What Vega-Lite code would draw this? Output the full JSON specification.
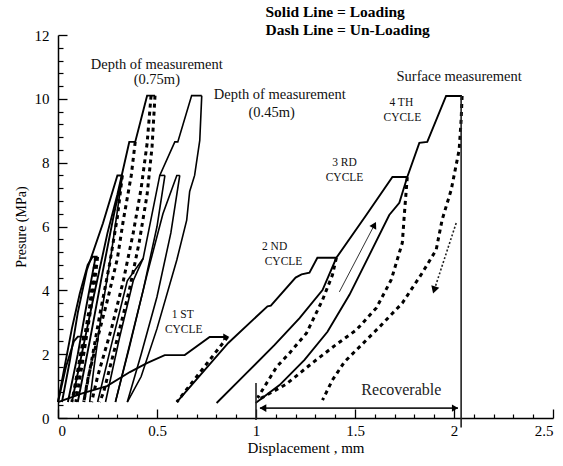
{
  "$schema": "https://vega.github.io/schema/vega-lite/v6.json",
  "width": 495,
  "height": 383,
  "autosize": {"type": "none"},
  "padding": {"left": 58, "top": 35, "right": 10, "bottom": 48},
  "background": "white",
  "config": {"view": {"stroke": null}, "font": "Liberation Serif"},
  "datasets": {
    "curves": [
      {"id":"s1","k":"solid","o":0,"x":0,"y":0.5},{"id":"s1","k":"solid","o":1,"x":0.126,"y":0.78},{"id":"s1","k":"solid","o":2,"x":0.247,"y":1.0},{"id":"s1","k":"solid","o":3,"x":0.363,"y":1.44},{"id":"s1","k":"solid","o":4,"x":0.449,"y":1.72},{"id":"s1","k":"solid","o":5,"x":0.539,"y":1.97},{"id":"s1","k":"solid","o":6,"x":0.64,"y":1.97},{"id":"s1","k":"solid","o":7,"x":0.766,"y":2.54},{"id":"s1","k":"solid","o":8,"x":0.857,"y":2.54},
      {"id":"d1","k":"dash","o":0,"x":0.857,"y":2.54},{"id":"d1","k":"dash","o":1,"x":0.6,"y":0.5},
      {"id":"s2","k":"solid","o":0,"x":0.6,"y":0.5},{"id":"s2","k":"solid","o":1,"x":0.86,"y":2.35},{"id":"s2","k":"solid","o":2,"x":1.058,"y":3.5},{"id":"s2","k":"solid","o":3,"x":1.075,"y":3.52},{"id":"s2","k":"solid","o":4,"x":1.2,"y":4.4},{"id":"s2","k":"solid","o":5,"x":1.23,"y":4.5},{"id":"s2","k":"solid","o":6,"x":1.27,"y":4.55},{"id":"s2","k":"solid","o":7,"x":1.31,"y":5.02},{"id":"s2","k":"solid","o":8,"x":1.406,"y":5.02},
      {"id":"d2","k":"dash","o":0,"x":1.406,"y":5.02},{"id":"d2","k":"dash","o":1,"x":1.386,"y":4.48},{"id":"d2","k":"dash","o":2,"x":1.336,"y":3.7},{"id":"d2","k":"dash","o":3,"x":1.255,"y":2.66},{"id":"d2","k":"dash","o":4,"x":1.17,"y":2.04},{"id":"d2","k":"dash","o":5,"x":1.104,"y":1.6},{"id":"d2","k":"dash","o":6,"x":1.008,"y":0.63},
      {"id":"s3","k":"solid","o":0,"x":0.801,"y":0.47},{"id":"s3","k":"solid","o":1,"x":0.943,"y":1.35},{"id":"s3","k":"solid","o":2,"x":1.094,"y":2.29},{"id":"s3","k":"solid","o":3,"x":1.22,"y":3.13},{"id":"s3","k":"solid","o":4,"x":1.336,"y":4.01},{"id":"s3","k":"solid","o":5,"x":1.406,"y":5.02},{"id":"s3","k":"solid","o":6,"x":1.557,"y":6.36},{"id":"s3","k":"solid","o":7,"x":1.689,"y":7.55},{"id":"s3","k":"solid","o":8,"x":1.764,"y":7.55},
      {"id":"s4","k":"solid","o":0,"x":0.998,"y":0.47},{"id":"s4","k":"solid","o":1,"x":1.119,"y":1.03},{"id":"s4","k":"solid","o":2,"x":1.245,"y":1.82},{"id":"s4","k":"solid","o":3,"x":1.361,"y":2.7},{"id":"s4","k":"solid","o":4,"x":1.472,"y":3.86},{"id":"s4","k":"solid","o":5,"x":1.573,"y":5.11},{"id":"s4","k":"solid","o":6,"x":1.673,"y":6.36},{"id":"s4","k":"solid","o":7,"x":1.724,"y":6.74},{"id":"s4","k":"solid","o":8,"x":1.764,"y":7.55},{"id":"s4","k":"solid","o":9,"x":1.825,"y":8.62},{"id":"s4","k":"solid","o":10,"x":1.865,"y":8.65},{"id":"s4","k":"solid","o":11,"x":1.96,"y":10.09},{"id":"s4","k":"solid","o":12,"x":2.04,"y":10.09},
      {"id":"dA","k":"dash","o":0,"x":1.764,"y":7.55},{"id":"dA","k":"dash","o":1,"x":1.749,"y":6.36},{"id":"dA","k":"dash","o":2,"x":1.739,"y":5.49},{"id":"dA","k":"dash","o":3,"x":1.683,"y":4.33},{"id":"dA","k":"dash","o":4,"x":1.608,"y":3.45},{"id":"dA","k":"dash","o":5,"x":1.507,"y":2.76},{"id":"dA","k":"dash","o":6,"x":1.396,"y":2.26},{"id":"dA","k":"dash","o":7,"x":1.29,"y":1.75},{"id":"dA","k":"dash","o":8,"x":1.15,"y":1.05},{"id":"dA","k":"dash","o":9,"x":1.02,"y":0.6},
      {"id":"dB","k":"dash","o":0,"x":2.041,"y":10.09},{"id":"dB","k":"dash","o":1,"x":2.036,"y":9.34},{"id":"dB","k":"dash","o":2,"x":2.026,"y":8.4},{"id":"dB","k":"dash","o":3,"x":1.986,"y":7.15},{"id":"dB","k":"dash","o":4,"x":1.94,"y":6.21},{"id":"dB","k":"dash","o":5,"x":1.91,"y":5.27},{"id":"dB","k":"dash","o":6,"x":1.84,"y":4.55},{"id":"dB","k":"dash","o":7,"x":1.739,"y":3.6},{"id":"dB","k":"dash","o":8,"x":1.623,"y":2.85},{"id":"dB","k":"dash","o":9,"x":1.507,"y":2.13},{"id":"dB","k":"dash","o":10,"x":1.447,"y":1.76},{"id":"dB","k":"dash","o":11,"x":1.386,"y":1.19},{"id":"dB","k":"dash","o":12,"x":1.336,"y":0.56},
      {"id":"t1","k":"thin","o":0,"x":1.421,"y":3.95},{"id":"t1","k":"thin","o":1,"x":1.598,"y":6.05},
      {"id":"t2","k":"dotted","o":0,"x":2.011,"y":6.11},{"id":"t2","k":"dotted","o":1,"x":1.9,"y":4.01},
      {"id":"a0","k":"solid","o":0,"x":0,"y":0.5},{"id":"a0","k":"solid","o":1,"x":0.04,"y":1.6},{"id":"a0","k":"solid","o":2,"x":0.08,"y":2.4},{"id":"a0","k":"solid","o":3,"x":0.1,"y":2.55},{"id":"a0","k":"solid","o":4,"x":0.13,"y":2.55},
      {"id":"a0d","k":"dash","o":0,"x":0.13,"y":2.55},{"id":"a0d","k":"dash","o":1,"x":0.1,"y":1.5},{"id":"a0d","k":"dash","o":2,"x":0.07,"y":0.5},
      {"id":"a1","k":"solid","o":0,"x":0,"y":0.5},{"id":"a1","k":"solid","o":1,"x":0.03,"y":1.5},{"id":"a1","k":"solid","o":2,"x":0.07,"y":2.8},{"id":"a1","k":"solid","o":3,"x":0.11,"y":3.9},{"id":"a1","k":"solid","o":4,"x":0.15,"y":4.8},{"id":"a1","k":"solid","o":5,"x":0.175,"y":5.05},{"id":"a1","k":"solid","o":6,"x":0.2,"y":5.05},
      {"id":"a1d","k":"dash","o":0,"x":0.2,"y":5.05},{"id":"a1d","k":"dash","o":1,"x":0.18,"y":4},{"id":"a1d","k":"dash","o":2,"x":0.15,"y":2.8},{"id":"a1d","k":"dash","o":3,"x":0.12,"y":1.6},{"id":"a1d","k":"dash","o":4,"x":0.09,"y":0.5},
      {"id":"a2","k":"solid","o":0,"x":0.02,"y":0.5},{"id":"a2","k":"solid","o":1,"x":0.06,"y":1.8},{"id":"a2","k":"solid","o":2,"x":0.1,"y":3.3},{"id":"a2","k":"solid","o":3,"x":0.146,"y":4.64},{"id":"a2","k":"solid","o":4,"x":0.227,"y":6.1},{"id":"a2","k":"solid","o":5,"x":0.3,"y":7.6},{"id":"a2","k":"solid","o":6,"x":0.325,"y":7.6},
      {"id":"a2d","k":"dash","o":0,"x":0.325,"y":7.6},{"id":"a2d","k":"dash","o":1,"x":0.3,"y":6.3},{"id":"a2d","k":"dash","o":2,"x":0.26,"y":4.8},{"id":"a2d","k":"dash","o":3,"x":0.21,"y":3.2},{"id":"a2d","k":"dash","o":4,"x":0.17,"y":1.8},{"id":"a2d","k":"dash","o":5,"x":0.13,"y":0.5},
      {"id":"a3","k":"solid","o":0,"x":0.07,"y":0.5},{"id":"a3","k":"solid","o":1,"x":0.12,"y":2},{"id":"a3","k":"solid","o":2,"x":0.18,"y":3.8},{"id":"a3","k":"solid","o":3,"x":0.25,"y":5.8},{"id":"a3","k":"solid","o":4,"x":0.3,"y":7},{"id":"a3","k":"solid","o":5,"x":0.36,"y":8.65},{"id":"a3","k":"solid","o":6,"x":0.39,"y":8.65},{"id":"a3","k":"solid","o":7,"x":0.45,"y":10.1},{"id":"a3","k":"solid","o":8,"x":0.49,"y":10.1},
      {"id":"a3d","k":"dash","o":0,"x":0.49,"y":10.1},{"id":"a3d","k":"dash","o":1,"x":0.475,"y":8.5},{"id":"a3d","k":"dash","o":2,"x":0.45,"y":7},{"id":"a3d","k":"dash","o":3,"x":0.41,"y":5.5},{"id":"a3d","k":"dash","o":4,"x":0.36,"y":4},{"id":"a3d","k":"dash","o":5,"x":0.3,"y":2.5},{"id":"a3d","k":"dash","o":6,"x":0.23,"y":0.8},{"id":"a3d","k":"dash","o":7,"x":0.21,"y":0.5},
      {"id":"a4d","k":"dash","o":0,"x":0.39,"y":8.65},{"id":"a4d","k":"dash","o":1,"x":0.37,"y":7.6},{"id":"a4d","k":"dash","o":2,"x":0.33,"y":6.2},{"id":"a4d","k":"dash","o":3,"x":0.3,"y":5},{"id":"a4d","k":"dash","o":4,"x":0.25,"y":3.7},{"id":"a4d","k":"dash","o":5,"x":0.2,"y":2.5},{"id":"a4d","k":"dash","o":6,"x":0.15,"y":1.2},{"id":"a4d","k":"dash","o":7,"x":0.13,"y":0.5},
      {"id":"a7d","k":"dash","o":0,"x":0.47,"y":10.1},{"id":"a7d","k":"dash","o":1,"x":0.45,"y":8.6},{"id":"a7d","k":"dash","o":2,"x":0.42,"y":7.2},{"id":"a7d","k":"dash","o":3,"x":0.38,"y":5.8},{"id":"a7d","k":"dash","o":4,"x":0.33,"y":4.3},{"id":"a7d","k":"dash","o":5,"x":0.27,"y":2.8},{"id":"a7d","k":"dash","o":6,"x":0.2,"y":1.3},{"id":"a7d","k":"dash","o":7,"x":0.17,"y":0.5},
      {"id":"a9d","k":"dash","o":0,"x":0.19,"y":5.05},{"id":"a9d","k":"dash","o":1,"x":0.16,"y":3.5},{"id":"a9d","k":"dash","o":2,"x":0.12,"y":2.0},{"id":"a9d","k":"dash","o":3,"x":0.08,"y":0.7},
      {"id":"a8","k":"solid","o":0,"x":0.05,"y":0.5},{"id":"a8","k":"solid","o":1,"x":0.1,"y":2.0},{"id":"a8","k":"solid","o":2,"x":0.14,"y":3.4},{"id":"a8","k":"solid","o":3,"x":0.19,"y":5.05},
      {"id":"a5","k":"solid","o":0,"x":0.1,"y":0.5},{"id":"a5","k":"solid","o":1,"x":0.16,"y":2.4},{"id":"a5","k":"solid","o":2,"x":0.22,"y":4.4},{"id":"a5","k":"solid","o":3,"x":0.28,"y":6.3},{"id":"a5","k":"solid","o":4,"x":0.325,"y":7.6},
      {"id":"a6","k":"fine","o":0,"x":0.325,"y":7.6},{"id":"a6","k":"fine","o":1,"x":0.3,"y":6.5},{"id":"a6","k":"fine","o":2,"x":0.27,"y":5.2},{"id":"a6","k":"fine","o":3,"x":0.22,"y":3.3},{"id":"a6","k":"fine","o":4,"x":0.18,"y":1.5},{"id":"a6","k":"fine","o":5,"x":0.16,"y":0.5},
      {"id":"g0","k":"fine","o":0,"x":0.2,"y":0.5},{"id":"g0","k":"fine","o":1,"x":0.27,"y":2.3},{"id":"g0","k":"fine","o":2,"x":0.35,"y":4.3},{"id":"g0","k":"fine","o":3,"x":0.43,"y":5.0},
      {"id":"g1","k":"fine","o":0,"x":0.24,"y":0.5},{"id":"g1","k":"fine","o":1,"x":0.31,"y":2.5},{"id":"g1","k":"fine","o":2,"x":0.38,"y":4.3},{"id":"g1","k":"fine","o":3,"x":0.43,"y":5.0},{"id":"g1","k":"fine","o":4,"x":0.514,"y":7.6},{"id":"g1","k":"fine","o":5,"x":0.59,"y":8.65},{"id":"g1","k":"fine","o":6,"x":0.605,"y":8.65},{"id":"g1","k":"fine","o":7,"x":0.675,"y":10.1},{"id":"g1","k":"fine","o":8,"x":0.726,"y":10.1},
      {"id":"g1b","k":"fine","o":0,"x":0.514,"y":7.6},{"id":"g1b","k":"fine","o":1,"x":0.54,"y":7.6},
      {"id":"g2","k":"fine","o":0,"x":0.54,"y":7.6},{"id":"g2","k":"fine","o":1,"x":0.5,"y":6},{"id":"g2","k":"fine","o":2,"x":0.43,"y":4},{"id":"g2","k":"fine","o":3,"x":0.36,"y":2.2},{"id":"g2","k":"fine","o":4,"x":0.29,"y":0.5},
      {"id":"g3","k":"fine","o":0,"x":0.29,"y":0.5},{"id":"g3","k":"fine","o":1,"x":0.37,"y":2.5},{"id":"g3","k":"fine","o":2,"x":0.45,"y":4.5},{"id":"g3","k":"fine","o":3,"x":0.53,"y":6.4},{"id":"g3","k":"fine","o":4,"x":0.6,"y":7.6},{"id":"g3","k":"fine","o":5,"x":0.615,"y":7.6},
      {"id":"g4","k":"fine","o":0,"x":0.615,"y":7.6},{"id":"g4","k":"fine","o":1,"x":0.57,"y":5.8},{"id":"g4","k":"fine","o":2,"x":0.5,"y":3.8},{"id":"g4","k":"fine","o":3,"x":0.42,"y":2},{"id":"g4","k":"fine","o":4,"x":0.35,"y":0.5},
      {"id":"g6","k":"fine","o":0,"x":0.726,"y":10.1},{"id":"g6","k":"fine","o":1,"x":0.716,"y":8.7},{"id":"g6","k":"fine","o":2,"x":0.69,"y":7.6},{"id":"g6","k":"fine","o":3,"x":0.665,"y":7.1},{"id":"g6","k":"fine","o":4,"x":0.65,"y":6.2},{"id":"g6","k":"fine","o":5,"x":0.6,"y":4.95},{"id":"g6","k":"fine","o":6,"x":0.5,"y":2.8},{"id":"g6","k":"fine","o":7,"x":0.42,"y":1.3},{"id":"g6","k":"fine","o":8,"x":0.35,"y":0.5}
    ],
    "vrules": [
      {"x": 2.036, "y": -0.3, "y2": 10.09},
      {"x": 1.0, "y": -0.06, "y2": 1.1}
    ],
    "hrules": [
      {"x": 1.02, "x2": 2.02, "y": 0.31}
    ],
    "heads": [
      {"h": "ur", "x": 1.598, "y": 6.05},
      {"h": "dl", "x": 1.9, "y": 4.01},
      {"h": "l", "x": 1.035, "y": 0.31},
      {"h": "r", "x": 2.005, "y": 0.31},
      {"h": "r", "x": 0.85, "y": 2.54}
    ],
    "texts": [
      {"g": "hdr", "x": 1.048, "y": 12.73, "t": "Solid Line = Loading"},
      {"g": "hdr", "x": 1.048, "y": 12.16, "t": "Dash Line = Un-Loading"},
      {"g": "ann", "x": 0.499, "y": 11.07, "t": "Depth of measurement"},
      {"g": "ann", "x": 0.499, "y": 10.6, "t": "(0.75m)"},
      {"g": "ann", "x": 1.12, "y": 10.13, "t": "Depth of measurement"},
      {"g": "ann", "x": 1.079, "y": 9.56, "t": "(0.45m)"},
      {"g": "ann", "x": 2.026, "y": 10.69, "t": "Surface measurement"},
      {"g": "cyc", "x": 1.734, "y": 9.87, "t": "4 TH"},
      {"g": "cyc", "x": 1.739, "y": 9.4, "t": "CYCLE"},
      {"g": "cyc", "x": 1.447, "y": 8.0, "t": "3 RD"},
      {"g": "cyc", "x": 1.447, "y": 7.53, "t": "CYCLE"},
      {"g": "cyc", "x": 1.094, "y": 5.36, "t": "2 ND"},
      {"g": "cyc", "x": 1.139, "y": 4.89, "t": "CYCLE"},
      {"g": "cyc", "x": 0.63, "y": 3.23, "t": "1 ST"},
      {"g": "cyc", "x": 0.635, "y": 2.76, "t": "CYCLE"},
      {"g": "rec", "x": 1.734, "y": 0.88, "t": "Recoverable"}
    ]
  },
  "resolve": {"axis": {"x": "independent", "y": "independent"}},
  "layer": [
    {
      "data": {"name": "texts"},
      "mark": {"type": "point", "opacity": 0},
      "encoding": {
        "x": {"field": "x", "type": "quantitative", "scale": {"domain": [0, 2.5], "nice": false, "zero": false},
          "axis": {"orient": "bottom", "values": [0.1,0.2,0.3,0.4,0.6,0.7,0.8,0.9,1.1,1.2,1.3,1.4,1.6,1.7,1.8,1.9,2.1,2.2,2.3,2.4], "tickSize": -4, "tickColor": "black", "tickWidth": 1.2, "labels": false, "domain": false, "grid": false, "title": null}},
        "y": {"field": "y", "type": "quantitative", "scale": {"domain": [0, 12], "nice": false, "zero": false},
          "axis": {"orient": "left", "values": [0.4,0.8,1.2,1.6,2.4,2.8,3.2,3.6,4.4,4.8,5.2,5.6,6.4,6.8,7.2,7.6,8.4,8.8,9.2,9.6,10.4,10.8,11.2,11.6], "tickSize": -5, "tickColor": "black", "tickWidth": 1.2, "labels": false, "domain": false, "grid": false, "title": null}}
      }
    },
    {
      "data": {"name": "curves"},
      "transform": [{"filter": "datum.k == 'solid'"}],
      "mark": {"type": "line", "color": "black", "strokeWidth": 1.9},
      "encoding": {
        "x": {"field": "x", "type": "quantitative", "scale": {"domain": [0, 2.5], "nice": false, "zero": false},
          "axis": {"orient": "bottom", "values": [0, 0.5, 1, 1.5, 2, 2.5], "format": "~g", "tickSize": -9, "tickColor": "black", "tickWidth": 1.3, "domainColor": "black", "domainWidth": 1.5, "grid": false, "labelPadding": 14, "labelFontSize": 15, "labelColor": "black", "labelFont": "Liberation Serif", "title": "Displacement , mm", "titleFontSize": 15, "titleFontWeight": "normal", "titleColor": "black", "titleFont": "Liberation Serif", "titlePadding": 2}},
        "y": {"field": "y", "type": "quantitative", "scale": {"domain": [0, 12], "nice": false, "zero": false},
          "axis": {"orient": "left", "values": [0, 2, 4, 6, 8, 10, 12], "tickSize": -9, "tickColor": "black", "tickWidth": 1.3, "domainColor": "black", "domainWidth": 1.5, "grid": false, "labelPadding": 18, "labelFontSize": 15, "labelColor": "black", "labelFont": "Liberation Serif", "title": "Presure (MPa)", "titleFontSize": 14, "titleFontWeight": "normal", "titleColor": "black", "titleFont": "Liberation Serif", "titlePadding": 6}},
        "detail": {"field": "id"},
        "order": {"field": "o", "type": "quantitative"}
      }
    },
    {
      "data": {"name": "curves"},
      "transform": [{"filter": "datum.k == 'dash'"}],
      "mark": {"type": "line", "color": "black", "strokeWidth": 3, "strokeDash": [4, 4]},
      "encoding": {
        "x": {"field": "x", "type": "quantitative", "axis": null},
        "y": {"field": "y", "type": "quantitative", "axis": null},
        "detail": {"field": "id"},
        "order": {"field": "o", "type": "quantitative"}
      }
    },
    {
      "data": {"name": "curves"},
      "transform": [{"filter": "datum.k == 'fine'"}],
      "mark": {"type": "line", "color": "black", "strokeWidth": 1.6},
      "encoding": {
        "x": {"field": "x", "type": "quantitative", "axis": null},
        "y": {"field": "y", "type": "quantitative", "axis": null},
        "detail": {"field": "id"},
        "order": {"field": "o", "type": "quantitative"}
      }
    },
    {
      "data": {"name": "curves"},
      "transform": [{"filter": "datum.k == 'thin'"}],
      "mark": {"type": "line", "color": "#333", "strokeWidth": 1},
      "encoding": {
        "x": {"field": "x", "type": "quantitative", "axis": null},
        "y": {"field": "y", "type": "quantitative", "axis": null},
        "detail": {"field": "id"},
        "order": {"field": "o", "type": "quantitative"}
      }
    },
    {
      "data": {"name": "curves"},
      "transform": [{"filter": "datum.k == 'dotted'"}],
      "mark": {"type": "line", "color": "#222", "strokeWidth": 1.6, "strokeDash": [2, 2]},
      "encoding": {
        "x": {"field": "x", "type": "quantitative", "axis": null},
        "y": {"field": "y", "type": "quantitative", "axis": null},
        "detail": {"field": "id"},
        "order": {"field": "o", "type": "quantitative"}
      }
    },
    {
      "data": {"name": "vrules"},
      "mark": {"type": "rule", "color": "#222", "strokeWidth": 1.6},
      "encoding": {
        "x": {"field": "x", "type": "quantitative", "axis": null},
        "y": {"field": "y", "type": "quantitative", "axis": null},
        "y2": {"field": "y2"}
      }
    },
    {
      "data": {"name": "hrules"},
      "mark": {"type": "rule", "color": "#222", "strokeWidth": 1.6},
      "encoding": {
        "x": {"field": "x", "type": "quantitative", "axis": null},
        "x2": {"field": "x2"},
        "y": {"field": "y", "type": "quantitative", "axis": null}
      }
    },
    {
      "data": {"name": "heads"},
      "transform": [{"filter": "datum.h == 'ur'"}],
      "mark": {"type": "point", "shape": "triangle-up", "angle": 28, "filled": true, "color": "black", "size": 60, "opacity": 1},
      "encoding": {"x": {"field": "x", "type": "quantitative", "axis": null}, "y": {"field": "y", "type": "quantitative", "axis": null}}
    },
    {
      "data": {"name": "heads"},
      "transform": [{"filter": "datum.h == 'dl'"}],
      "mark": {"type": "point", "shape": "triangle-down", "angle": 18, "filled": true, "color": "black", "size": 70, "opacity": 1},
      "encoding": {"x": {"field": "x", "type": "quantitative", "axis": null}, "y": {"field": "y", "type": "quantitative", "axis": null}}
    },
    {
      "data": {"name": "heads"},
      "transform": [{"filter": "datum.h == 'l'"}],
      "mark": {"type": "point", "shape": "triangle-left", "filled": true, "color": "black", "size": 60, "opacity": 1},
      "encoding": {"x": {"field": "x", "type": "quantitative", "axis": null}, "y": {"field": "y", "type": "quantitative", "axis": null}}
    },
    {
      "data": {"name": "heads"},
      "transform": [{"filter": "datum.h == 'r'"}],
      "mark": {"type": "point", "shape": "triangle-right", "filled": true, "color": "black", "size": 50, "opacity": 1},
      "encoding": {"x": {"field": "x", "type": "quantitative", "axis": null}, "y": {"field": "y", "type": "quantitative", "axis": null}}
    },
    {
      "data": {"name": "texts"},
      "transform": [{"filter": "datum.g == 'hdr'"}],
      "mark": {"type": "text", "align": "left", "baseline": "middle", "font": "Liberation Serif", "fontWeight": "bold", "fontSize": 15.5, "color": "black"},
      "encoding": {"x": {"field": "x", "type": "quantitative", "axis": null}, "y": {"field": "y", "type": "quantitative", "axis": null}, "text": {"field": "t"}}
    },
    {
      "data": {"name": "texts"},
      "transform": [{"filter": "datum.g == 'ann'"}],
      "mark": {"type": "text", "align": "center", "baseline": "middle", "font": "Liberation Serif", "fontSize": 14.5, "color": "#111"},
      "encoding": {"x": {"field": "x", "type": "quantitative", "axis": null}, "y": {"field": "y", "type": "quantitative", "axis": null}, "text": {"field": "t"}}
    },
    {
      "data": {"name": "texts"},
      "transform": [{"filter": "datum.g == 'cyc'"}],
      "mark": {"type": "text", "align": "center", "baseline": "middle", "font": "Liberation Serif", "fontSize": 11.5, "color": "#111"},
      "encoding": {"x": {"field": "x", "type": "quantitative", "axis": null}, "y": {"field": "y", "type": "quantitative", "axis": null}, "text": {"field": "t"}}
    },
    {
      "data": {"name": "texts"},
      "transform": [{"filter": "datum.g == 'rec'"}],
      "mark": {"type": "text", "align": "center", "baseline": "middle", "font": "Liberation Serif", "fontSize": 16, "color": "#222"},
      "encoding": {"x": {"field": "x", "type": "quantitative", "axis": null}, "y": {"field": "y", "type": "quantitative", "axis": null}, "text": {"field": "t"}}
    }
  ]
}
